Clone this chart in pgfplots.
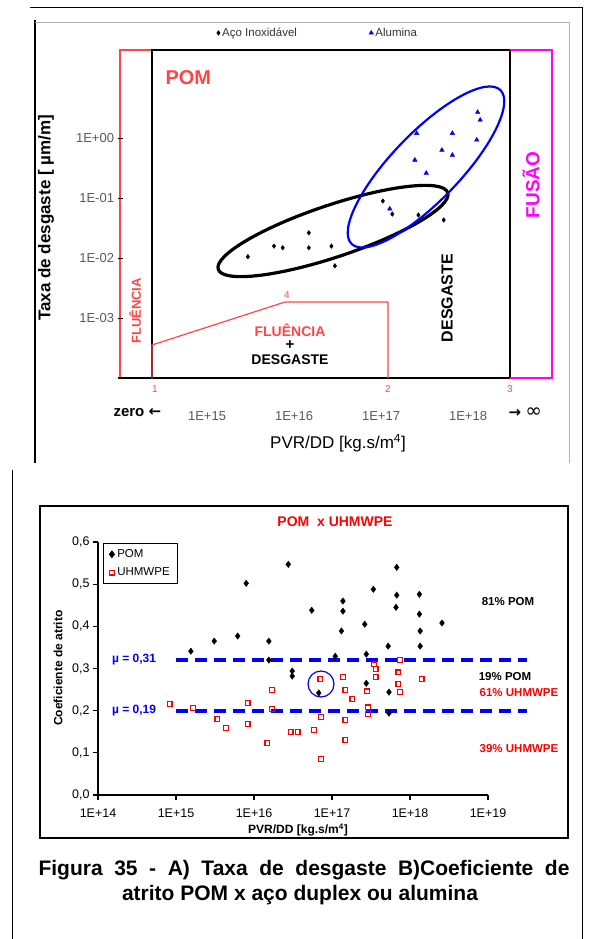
\documentclass[border=0pt]{standalone}
\usepackage{fontspec}
\setmainfont{Liberation Sans}
\newfontfamily\dejavu{DejaVu Sans}
\usepackage{pgfplots}
\pgfplotsset{compat=1.18}
\definecolor{lred}{RGB}{255,70,70}
\definecolor{mag}{RGB}{255,0,255}
\newcommand{\fs}[1]{\fontsize{#1}{#1}\selectfont}
\begin{document}
\begin{tikzpicture}
\useasboundingbox (0,0) rectangle (592pt,-939pt);
\begin{scope}[x=1pt,y=1pt]
% frames
\draw[line width=1pt] (12,-939) -- (12,-470);
\draw[line width=1pt] (582,-939) -- (582,-8) -- (30,-8);
\draw[line width=2pt] (35,-20) -- (35,-463);
\draw[gray!60, line width=0.6pt] (35,-22) -- (569,-22) -- (569,-463);
\draw[line width=1.3pt] (40,-506) rectangle (568,-838);
% top chart boxes
\draw[lred, line width=1.3pt] (120,-378) -- (120,-50) -- (152,-50);
\draw[line width=1.5pt] (152,-378) -- (152,-50) -- (510,-50) -- (510,-378);
\draw[mag, line width=1.5pt] (510,-50) -- (552,-50) -- (552,-378) -- (510,-378);
\draw[line width=1.5pt] (118,-378) -- (510,-378);
\draw[lred, line width=1.2pt] (152,-378) -- (152,-345) -- (285,-302) -- (388,-302) -- (388,-378);
% ellipses
\draw[line width=3.2pt, rotate around={18.5:(333,-231)}] (333,-231) ellipse (121 and 26);
\draw[blue, line width=2.2pt, rotate around={46:(426,-167)}] (426,-167) ellipse (107 and 34);
% texts top
\node[lred, font=\bfseries\fs{20}, anchor=base west] at (162,-85) {POM};
\node[mag, font=\bfseries\fs{19}, rotate=90] at (531,-185) {FUSÃO};
\node[lred, font=\bfseries\fs{13}, rotate=90] at (135,-311) {FLUÊNCIA};
\node[lred, font=\bfseries\fs{14}] at (290,-330) {FLUÊNCIA};
\node[font=\bfseries\fs{15}] at (290,-345) {+};
\node[font=\bfseries\fs{14}] at (290,-360) {DESGASTE};
\node[font=\bfseries\fs{16}, rotate=90] at (447,-298) {DESGASTE};
\node[lred, font=\fs{10}] at (155,-389) {1};
\node[lred, font=\fs{10}] at (388,-389) {2};
\node[lred, font=\fs{10}] at (510,-389) {3};
\node[lred, font=\fs{10}] at (287,-295) {4};
\node[font=\bfseries\fs{17}, rotate=90] at (46,-218) {Taxa de desgaste [ µm/m]};
\node[font=\fs{17}] at (338,-443) {PVR/DD [kg.s/m\textsuperscript{4}]};
\node[font=\bfseries\fs{15}, anchor=west] at (110,-413) {zero {\dejavu ←}};
\node[font=\fs{15}, anchor=west] at (505,-413) {{\dejavu\bfseries →} {\dejavu\fs{20}∞}};
% texts bottom
\node[red, font=\bfseries\fs{14}] at (335,-522) {POM\ \ x UHMWPE};
\node[blue, font=\bfseries\fs{12}] at (134,-660) {µ = 0,31};
\node[blue, font=\bfseries\fs{12}] at (134,-711) {µ = 0,19};
\node[font=\bfseries\fs{11.5}] at (508,-602) {81\% POM};
\node[font=\bfseries\fs{11.5}] at (505,-677) {19\% POM};
\node[red, font=\bfseries\fs{11.5}] at (519,-693) {61\% UHMWPE};
\node[red, font=\bfseries\fs{11.5}] at (519,-749) {39\% UHMWPE};
\node[font=\bfseries\fs{12}, rotate=90] at (58,-668) {Coeficiente de atrito};
\node[font=\bfseries\fs{12}] at (298,-830) {PVR/DD [kg.s/m\textsuperscript{4}]};
\draw[blue, line width=1.2pt] (321,-684) circle (13);
% caption
\node[font=\bfseries\fs{21}, anchor=base west] at (35,-875) {\makebox[531pt][s]{Figura 35 - A) Taxa de desgaste B)Coeficiente de}};
\node[font=\bfseries\fs{21}, anchor=base] at (300,-900) {atrito POM x aço duplex ou alumina};
\end{scope}

% top chart
\begin{axis}[
  at={(120pt,-378pt)}, anchor=south west,
  width=435pt, height=328pt, scale only axis,
  xmode=log, ymode=log,
  xmin=1e14, xmax=1e19, ymin=1e-4, ymax=29.3,
  axis line style={draw=none},
  minor tick length=0pt,
  xtick={1e15,1e16,1e17,1e18},
  xticklabels={1E+15,1E+16,1E+17,1E+18},
  xtick style={draw=none},
  xticklabel style={anchor=base, yshift=-40pt, font=\fs{13}, text=black!65},
  ytick={1,0.1,0.01,0.001},
  yticklabels={1E+00,1E-01,1E-02,1E-03},
  ytick pos=left, xtick pos=bottom,
  ytick style={black, line width=1pt},
  major tick length=5pt, tick align=center,
  yticklabel style={font=\fs{13}, text=black!65},
  clip=false,
  legend columns=2,
  legend style={at={(0.215,1.052)}, anchor=west, draw=none, fill=none,
    font=\fs{11.5}, text=black!80, /tikz/every even column/.append style={column sep=70pt}},
]
\addplot[only marks, mark=diamond*, mark size=2.3pt, black] coordinates {
(2.95e15,1.05e-2) (5.89e15,1.58e-2) (7.41e15,1.48e-2) (1.48e16,2.63e-2)
(1.48e16,1.48e-2) (2.69e16,1.58e-2) (2.95e16,7.4e-3) (1.05e17,8.9e-2)
(1.35e17,5.4e-2) (2.69e17,5.2e-2) (5.25e17,4.3e-2)};
\addlegendentry{Aço Inoxidável}
\addplot[only marks, mark=triangle*, mark size=2.6pt, blue] coordinates {
(1.29e18,2.69) (1.38e18,2.0) (6.61e17,1.20) (1.26e18,0.93) (5.01e17,0.63)
(6.61e17,0.52) (2.45e17,0.43) (3.31e17,0.26) (1.26e17,0.066) (2.57e17,1.20)};
\addlegendentry{Alumina}
\end{axis}

% bottom chart
\begin{axis}[
  at={(98pt,-795pt)}, anchor=south west,
  width=390pt, height=253pt, scale only axis,
  xmode=log, xmin=1e14, xmax=1e19, ymin=0, ymax=0.6,
  axis lines=left, axis line style={-, line width=1.3pt},
  minor tick length=0pt,
  xtick={1e14,1e15,1e16,1e17,1e18,1e19},
  xticklabels={1E+14,1E+15,1E+16,1E+17,1E+18,1E+19},
  ytick={0,0.1,0.2,0.3,0.4,0.5,0.6},
  yticklabels={{0,0},{0,1},{0,2},{0,3},{0,4},{0,5},{0,6}},
  tick style={black, line width=1.3pt},
  major tick length=5pt, tick align=outside,
  ticklabel style={font=\fs{12.5}},
  xticklabel style={yshift=-5pt},
  clip=false,
  legend style={at={(0.0128,0.996)}, anchor=north west, draw=black,
    line width=1pt, font=\fs{11.5}, inner xsep=6pt, inner ysep=4pt, row sep=5pt,
    /tikz/every odd column/.append style={column sep=1pt}},
  legend cell align=left,
]
\addplot[only marks, mark=diamond*, mark size=3.2pt, black] coordinates {
(1.55e15,0.341) (3.09e15,0.365) (6.17e15,0.377) (7.94e15,0.502) (1.55e16,0.365)
(1.55e16,0.320) (2.75e16,0.547) (3.09e16,0.294) (3.09e16,0.282) (5.5e16,0.438)
(6.76e16,0.242) (1.38e17,0.460) (1.38e17,0.436) (1.32e17,0.389) (1.10e17,0.329)
(2.63e17,0.405) (3.39e17,0.488) (2.75e17,0.334) (2.75e17,0.265) (5.25e17,0.353)
(5.37e17,0.244) (5.37e17,0.194) (6.76e17,0.540) (6.76e17,0.474) (6.61e17,0.445)
(1.32e18,0.476) (1.32e18,0.429) (1.35e18,0.389) (1.35e18,0.353) (2.57e18,0.408)};
\addlegendentry{POM}
\addplot[only marks, mark=square, mark size=2.4pt, red, line width=1.4pt] coordinates {
(8.32e14,0.216) (1.66e15,0.206) (3.39e15,0.180) (4.37e15,0.159) (8.32e15,0.218)
(8.32e15,0.168) (1.48e16,0.123) (1.70e16,0.249) (1.70e16,0.204) (2.95e16,0.149)
(3.63e16,0.149) (5.89e16,0.154) (7.08e16,0.275) (7.24e16,0.185) (7.24e16,0.085)
(1.38e17,0.280) (1.48e17,0.249) (1.82e17,0.228) (1.48e17,0.178) (1.48e17,0.130)
(2.82e17,0.246) (2.88e17,0.208) (2.88e17,0.192) (3.47e17,0.310) (3.63e17,0.299)
(3.63e17,0.280) (7.41e17,0.320) (7.08e17,0.291) (7.08e17,0.263) (7.41e17,0.244)
(1.41e18,0.275)};
\addlegendentry{UHMWPE}
\addplot[blue, line width=4pt, dash pattern=on 12pt off 7pt, forget plot] coordinates {(1e15,0.32) (3.2e19,0.32)};
\addplot[blue, line width=4pt, dash pattern=on 12pt off 7pt, forget plot] coordinates {(1e15,0.2) (3.2e19,0.2)};
\end{axis}
\end{tikzpicture}
\end{document}
